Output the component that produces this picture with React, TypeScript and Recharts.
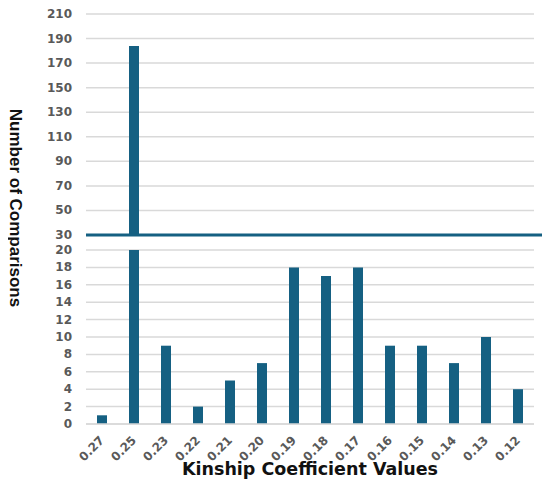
import React from 'react';
import { BarChart, Bar, XAxis, YAxis, CartesianGrid, ReferenceLine, Label } from 'recharts';

// kinship coefficient bins, high to low
const categories = ['0.27', '0.25', '0.23', '0.22', '0.21', '0.20', '0.19', '0.18', '0.17', '0.16', '0.15', '0.14', '0.13', '0.12'];
const comparisons = [1, 184, 9, 2, 5, 7, 18, 17, 18, 9, 9, 7, 10, 4];

const breakValue = 30;
const lowerMax = 20;
const upperTicks = [30, 50, 70, 90, 110, 130, 150, 170, 190, 210];
const lowerTicks = [0, 2, 4, 6, 8, 10, 12, 14, 16, 18, 20];

const data = categories.map((name, i) => ({
  name,
  upper: comparisons[i] > breakValue ? comparisons[i] : null,
  lower: Math.min(comparisons[i], lowerMax),
}));

const BAR = '#156082';
const GRID = '#d9d9d9';
const tickFont = { fill: '#595959', fontSize: 12, fontWeight: 700, fontFamily: 'DejaVu Sans' };

const ValueTick = ({ x, y, payload }: any) => (
  <text x={x} y={y} textAnchor="end" dominantBaseline="central" style={tickFont}>
    {payload.value}
  </text>
);

const RotatedTick = ({ x, y, payload }: any) => (
  <text
    x={x + 3}
    y={y + 9}
    transform={`rotate(-45, ${x + 3}, ${y + 9})`}
    textAnchor="end"
    style={tickFont}
  >
    {payload.value}
  </text>
);

// the axis break, drawn a little past the plot like the original
const BreakLine = (props: any) => (
  <line x1={props.x1} y1={props.y1} x2={props.x2 + 9} y2={props.y2} stroke={BAR} strokeWidth={3} />
);

export default function App() {
  return (
    <div style={{ position: 'relative', width: 550, height: 485, margin: '-8px 0 0 -8px', background: '#fff' }}>
      <div style={{ position: 'absolute', left: 0, top: 0 }}>
        <BarChart width={550} height={245} data={data} margin={{ top: 14, right: 16, bottom: 10, left: 0 }}>
          <CartesianGrid vertical={false} stroke={GRID} strokeWidth={1.5} />
          <XAxis dataKey="name" hide />
          <YAxis
            width={86}
            domain={[breakValue, 210]}
            ticks={upperTicks}
            interval={0}
            tickLine={false}
            axisLine={false}
            tickMargin={8}
            tick={<ValueTick />}
          />
          <Bar dataKey="upper" fill={BAR} barSize={10} isAnimationActive={false} />
          <ReferenceLine y={breakValue} shape={BreakLine} />
        </BarChart>
      </div>
      <div style={{ position: 'absolute', left: 0, top: 236 }}>
        <BarChart width={550} height={249} data={data} margin={{ top: 14, right: 16, bottom: 0, left: 0 }}>
          <CartesianGrid vertical={false} stroke={GRID} strokeWidth={1.5} />
          <XAxis
            dataKey="name"
            height={61}
            interval={0}
            tickLine={false}
            axisLine={{ stroke: GRID, strokeWidth: 1.5 }}
            tick={<RotatedTick />}
          >
            <Label
              value="Kinship Coefficient Values"
              position="insideBottom"
              offset={10}
              style={{ fill: '#111', fontSize: 17.5, fontWeight: 700, fontFamily: 'DejaVu Sans' }}
            />
          </XAxis>
          <YAxis
            width={86}
            domain={[0, lowerMax]}
            ticks={lowerTicks}
            interval={0}
            tickLine={false}
            axisLine={false}
            tickMargin={8}
            tick={<ValueTick />}
          />
          <Bar dataKey="lower" fill={BAR} barSize={10} isAnimationActive={false} />
        </BarChart>
      </div>
      <svg width={550} height={485} style={{ position: 'absolute', left: 0, top: 0, pointerEvents: 'none' }}>
        <text
          x={15}
          y={208}
          transform="rotate(90, 15, 208)"
          textAnchor="middle"
          dominantBaseline="central"
          style={{ fill: '#111', fontSize: 17, fontWeight: 700, fontFamily: 'Liberation Sans' }}
        >
          Number of Comparisons
        </text>
      </svg>
    </div>
  );
}
